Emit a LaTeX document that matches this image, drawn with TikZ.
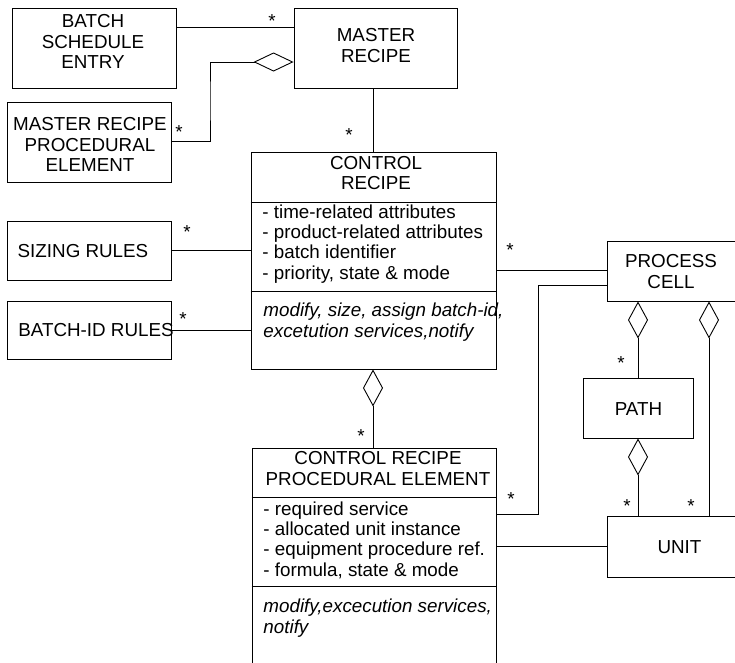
\documentclass[tikz,border=0pt]{standalone}
\usepackage{fontspec}
\setmainfont{Liberation Sans}
\usetikzlibrary{arrows.meta}

\begin{document}
\begin{tikzpicture}[x=1pt,y=-1pt,
  line width=0.9pt,
  every node/.style={font=\fontsize{18.8}{20.3}\selectfont},
  box/.style={draw, rectangle, inner sep=0pt},
  lbl/.style={inner sep=0pt, align=center},
  list/.style={inner sep=0pt, align=left, anchor=base west},
  mult/.style={inner sep=0pt, yshift=-4pt},
  agg/.style={{Diamond[open,length=37pt,width=20pt]}-},
  aggh/.style={{Diamond[open,length=40pt,width=19pt]}-}]
\useasboundingbox (0,0) rectangle (735,662);

% ---- boxes ----
\node[box, minimum width=164pt, minimum height=80pt] (bse) at (94,48) {};
\node[lbl] (bset) at (93,41.5) {BATCH\\SCHEDULE\\ENTRY};

\node[box, minimum width=163pt, minimum height=80pt] (mr) at (375.5,48) {};
\node[lbl] (mrt) at (376,45.5) {MASTER\\RECIPE};

\node[box, minimum width=164pt, minimum height=80pt] (mrpe) at (89,142) {};
\node[lbl] (mrpet) at (90,144.5) {MASTER RECIPE\\PROCEDURAL\\ELEMENT};

\node[box, minimum width=164pt, minimum height=59pt] (sr) at (89,250.5) {};
\node[lbl] (srt) at (83,251.5) {SIZING RULES};

\node[box, minimum width=164pt, minimum height=58pt] (bir) at (89,330) {};
\node[lbl] (birt) at (96,330.5) {BATCH-ID RULES};

% control recipe class (anchors of the lists sit on their last baselines)
\node[box, minimum width=245pt, minimum height=217pt] (cr) at (373.5,260.5) {};
\node[lbl] (crt) at (376,173) {CONTROL\\RECIPE};
\draw (cr.west |- 0,202) -- (cr.east |- 0,202);
\draw (cr.west |- 0,291) -- (cr.east |- 0,291);
\node[list] (cra) at (262,279) {- time-related attributes\\- product-related attributes\\- batch identifier\\- priority, state \& mode};
\node[list] (crm) at (263,337) {\itshape modify, size, assign batch-id,\\\itshape excetution services,notify};

% control recipe procedural element class
\node[box, minimum width=244pt, minimum height=252pt] (crpe) at (374,574) {};
\node[lbl] (crpet) at (378,468.5) {CONTROL RECIPE\\PROCEDURAL ELEMENT};
\draw (crpe.west |- 0,497) -- (crpe.east |- 0,497);
\draw (crpe.west |- 0,586) -- (crpe.east |- 0,586);
\node[list] (crpea) at (263,576) {- required service\\- allocated unit instance\\- equipment procedure ref.\\- formula, state \& mode};
\node[list] (crpem) at (263,633) {\itshape modify,excecution services,\\\itshape notify};

\node[box, minimum width=131pt, minimum height=60pt] (pc) at (672.5,271) {};
\node[lbl] (pct) at (671,271.5) {PROCESS\\CELL};

\node[box, minimum width=110pt, minimum height=60pt] (path) at (638,408) {};
\node[lbl] (patht) at (638.5,409.5) {PATH};

\node[box, minimum width=148pt, minimum height=61pt] (unit) at (681,546.5) {};
\node[lbl] (unitt) at (679.5,547.5) {UNIT};

% ---- connectors ----
\draw (bse.east |- 0,27) -- (mr.west |- 0,27);
\coordinate (mrbend) at (210,100);
\draw[aggh] (mr.west |- 0,62) -| (mrbend) |- (mrpe.east |- 0,141);
\draw (mr.south -| 373,0) -- (cr.north -| 373,0);
\draw (sr.east |- 0,250) -- (cr.west |- 0,250);
\draw (bir.east |- 0,330) -- (cr.west |- 0,330);
\draw (cr.east |- 0,270) -- (pc.west |- 0,270);
\coordinate (pcbend) at (538,285);
\draw (crpe.east |- 0,514) -| (pcbend) -- (pc.west |- pcbend);
\draw[agg] (pc.south -| 638,0) -- (path.north);
\draw[agg] (pc.south -| 709,0) -- (unit.north -| 709,0);
\draw[agg] (path.south) -- (unit.north -| path.south);
\draw[agg] (cr.south -| 373,0) -- (crpe.north -| 373,0);
\draw (crpe.east |- 0,546) -- (unit.west |- 0,546);

% ---- multiplicities ----
\node[mult] (m1) at (272,17) {*};
\node[mult] (m2) at (179,128) {*};
\node[mult] (m3) at (349,131) {*};
\node[mult] (m4) at (187,228) {*};
\node[mult] (m5) at (183,315) {*};
\node[mult] (m6) at (510,246) {*};
\node[mult] (m7) at (511,495) {*};
\node[mult] (m8) at (621,359) {*};
\node[mult] (m9) at (361,432) {*};
\node[mult] (m10) at (627,502) {*};
\node[mult] (m11) at (691,502) {*};
\end{tikzpicture}
\end{document}
